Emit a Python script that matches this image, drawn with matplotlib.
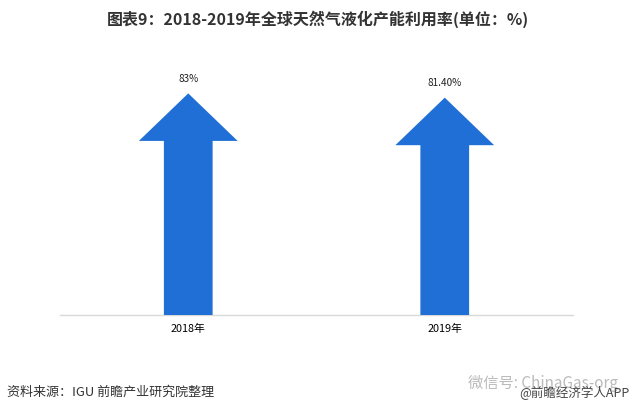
import numpy as np
import matplotlib.pyplot as plt
from matplotlib.patches import Polygon

plt.rcParams['font.family'] = ['Noto Sans CJK SC', 'DejaVu Sans']

# data
years = ['2018年', '2019年']
values = [83.0, 81.4]
labels = ['83%', '81.40%']

title = '图表9：2018-2019年全球天然气液化产能利用率(单位：%)'
source = '资料来源：IGU 前瞻产业研究院整理'

arrow_color = '#1F6FD6'
shaft_w = 0.19
head_w = 0.385
head_len = 17.8

fig = plt.figure(figsize=(6.36, 4.13), dpi=100)
ax = fig.add_axes([60 / 636, 1 - 315 / 413, 513 / 636, 267 / 413])
ax.set_xlim(-0.5, 1.5)
ax.set_ylim(0, 100)

# arrows drawn as polygons in data coords
for i, v in enumerate(values):
    hb = v - head_len
    pts = [(i - shaft_w / 2, 0), (i - shaft_w / 2, hb), (i - head_w / 2, hb), (i, v),
           (i + head_w / 2, hb), (i + shaft_w / 2, hb), (i + shaft_w / 2, 0)]
    ax.add_patch(Polygon(pts, closed=True, facecolor=arrow_color, edgecolor='none', zorder=3))
    ax.text(i, v + 5.5, labels[i], ha='center', va='center', fontsize=7.2, color='#222222')

ax.set_xticks(range(len(years)))
ax.set_xticklabels(years, fontsize=7.8)
ax.tick_params(axis='x', length=0, pad=6)
ax.set_yticks([])
for s in ['top', 'left', 'right']:
    ax.spines[s].set_visible(False)
ax.spines['bottom'].set_color('#D9D9D9')
ax.spines['bottom'].set_linewidth(1)

fig.text(0.5, 1 - 19 / 413, title, ha='center', va='center', fontsize=11.5,
         fontweight='bold', color='#333333')
fig.text(7 / 636, 1 - 392 / 413, source, ha='left', va='center', fontsize=9.4, color='#333333')
fig.text(468 / 636, 1 - 383 / 413, '微信号: ChinaGas-org', ha='left', va='center',
         fontsize=11, color='#BBBBBB')
fig.text(630 / 636, 1 - 393 / 413, '@前瞻经济学人APP', ha='right', va='center',
         fontsize=9, color='#444444')

fig.savefig('out.png', dpi=100)
